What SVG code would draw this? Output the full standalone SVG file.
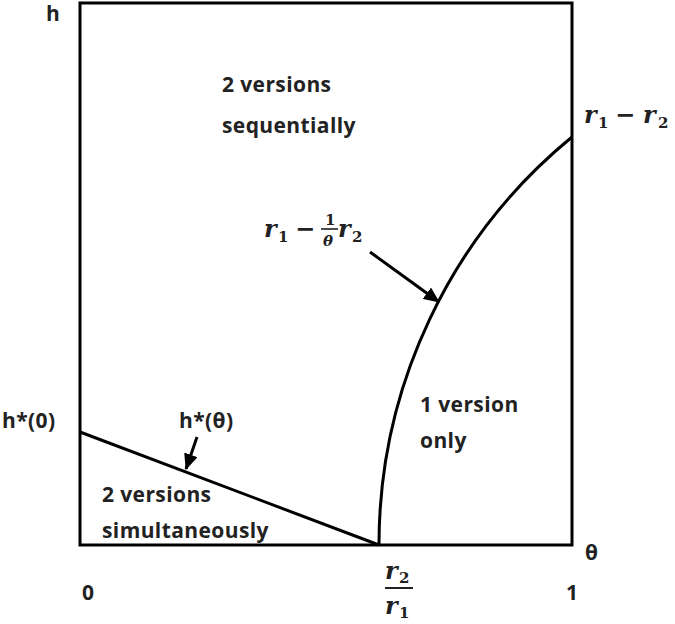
<svg xmlns="http://www.w3.org/2000/svg" width="675" height="624" viewBox="0 0 675 624">
<style>
.lbl{font-family:"Open Sans","Liberation Sans",sans-serif;font-weight:bold;font-size:21px;fill:#222;letter-spacing:0.4px}
.m{font-family:"DejaVu Serif","Liberation Serif",serif;font-weight:bold;font-style:italic;font-size:24px;fill:#222}
.s{font-family:"DejaVu Serif","Liberation Serif",serif;font-weight:bold;font-size:15px;fill:#222}
.op{font-family:"DejaVu Serif","Liberation Serif",serif;font-weight:bold;font-size:24px;fill:#222}
.ln{fill:none;stroke:#000;stroke-width:3}
</style>
<defs>
<marker id="ah" markerUnits="userSpaceOnUse" markerWidth="16" markerHeight="14" refX="15" refY="7" orient="auto">
<path d="M0,0 L16,7 L0,14 Z" fill="#000"/>
</marker>
</defs>
<g id="frame">
<path class="ln" d="M80,545 L80,3 L572,3 L572,545 Z"/>
</g>
<g id="connectors">
<path id="hstar" class="ln" d="M80,432 L379,545"/>
<path id="boundary" class="ln" d="M379,545 A527,527 0 0 1 572,137"/>
<path class="ln" d="M370,252 L439,302" stroke-width="3.5" marker-end="url(#ah)"/>
<path class="ln" d="M197,437 L186,469" stroke-width="3.5" marker-end="url(#ah)"/>
</g>
<g id="axis-labels">
<text class="lbl" x="46" y="21">h</text>
<text class="lbl" x="585" y="560">θ</text>
<text class="lbl" x="82" y="600">0</text>
<text class="lbl" x="566" y="600">1</text>
<text class="lbl" x="2" y="428">h*(0)</text>
<text class="lbl" x="179" y="428">h*(θ)</text>
</g>
<g id="region-seq">
<text class="lbl" x="222" y="92">2 versions</text>
<text class="lbl" x="222" y="133">sequentially</text>
</g>
<g id="region-one">
<text class="lbl" x="420" y="412">1 version</text>
<text class="lbl" x="420" y="448">only</text>
</g>
<g id="region-sim">
<text class="lbl" x="102" y="502">2 versions</text>
<text class="lbl" x="102" y="538">simultaneously</text>
</g>
<g id="math-r1r2">
<text class="m" x="584" y="123">r</text>
<text class="s" x="598" y="128">1</text>
<text class="op" x="615" y="123">−</text>
<text class="m" x="643" y="123">r</text>
<text class="s" x="658" y="128">2</text>
</g>
<g id="math-theta">
<text class="m" x="264" y="237">r</text>
<text class="s" x="278" y="242">1</text>
<text class="op" x="295" y="237">−</text>
<text class="s" x="325" y="225">1</text>
<line x1="321" y1="229" x2="338" y2="229" stroke="#222" stroke-width="1.6"/>
<text class="m" x="323" y="246" style="font-size:15px">θ</text>
<text class="m" x="338" y="237">r</text>
<text class="s" x="352" y="242">2</text>
</g>
<g id="math-ratio">
<text class="m" x="385" y="579">r</text>
<text class="s" x="399" y="583">2</text>
<line x1="385" y1="588" x2="413" y2="588" stroke="#222" stroke-width="2"/>
<text class="m" x="385" y="614">r</text>
<text class="s" x="399" y="618">1</text>
</g>
</svg>
